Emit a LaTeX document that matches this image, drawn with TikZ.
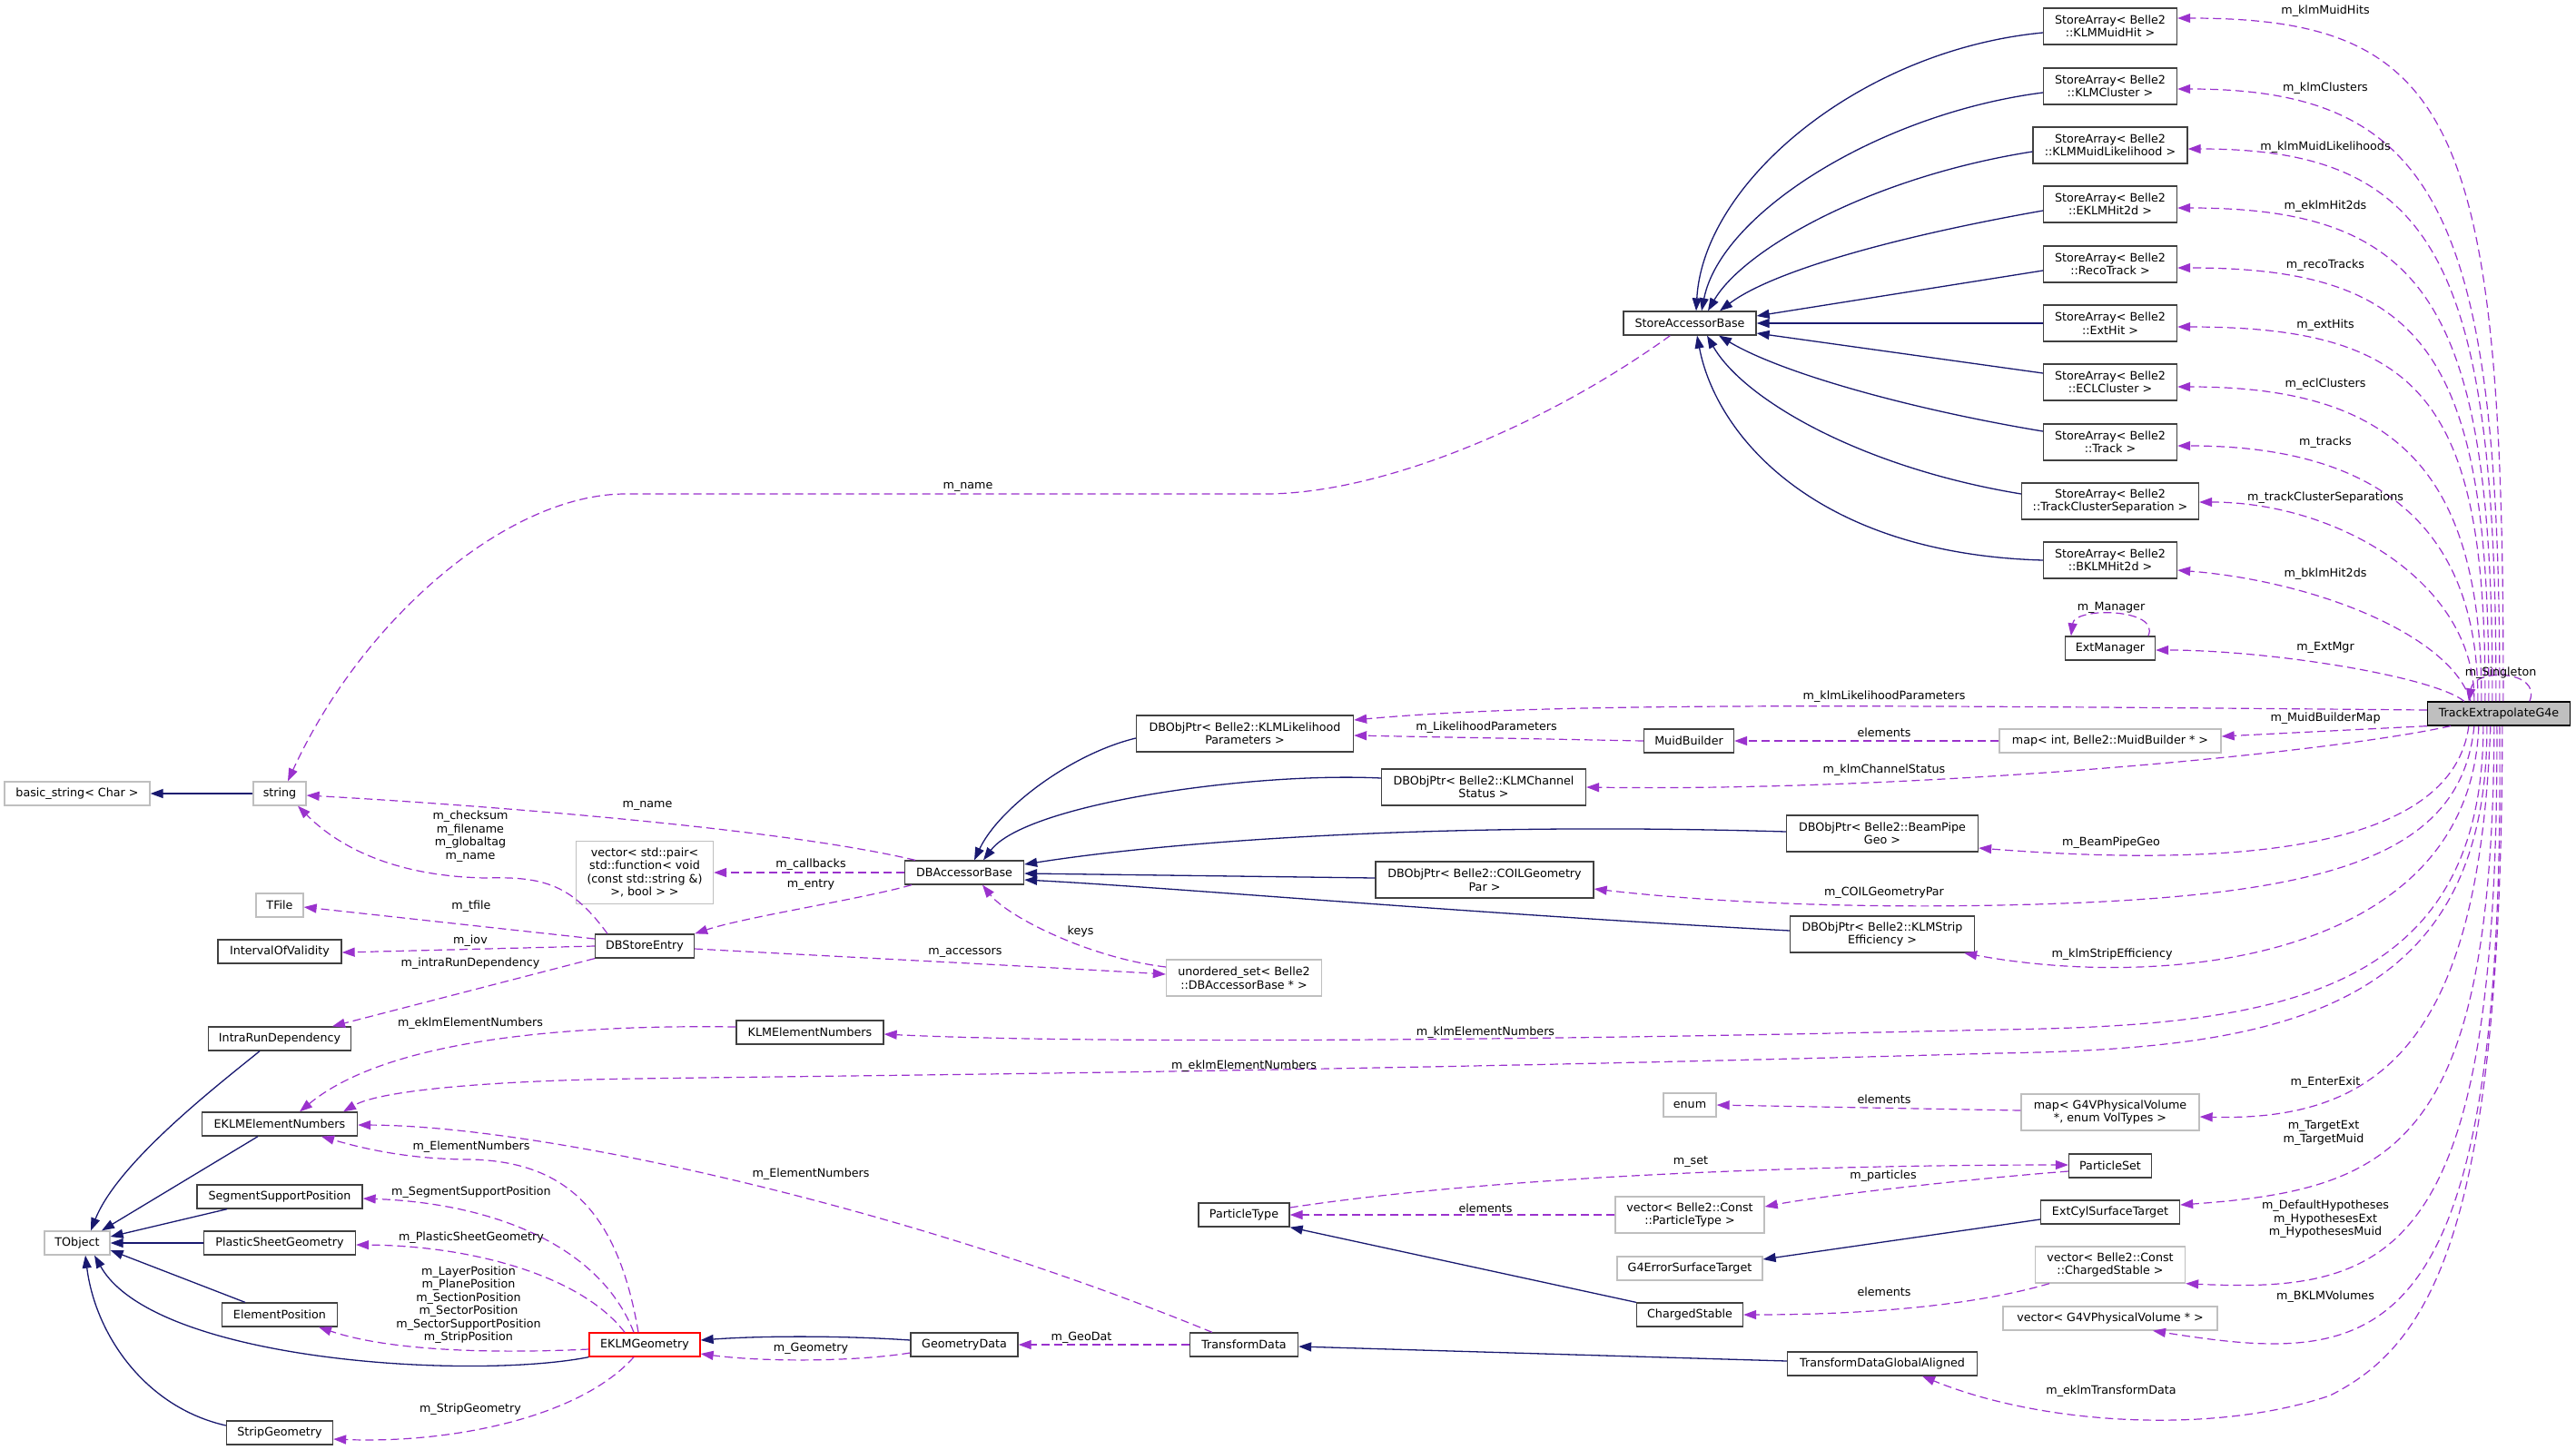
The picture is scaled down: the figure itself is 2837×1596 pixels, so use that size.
\documentclass[tikz,border=0pt]{standalone}
\usepackage{fontspec}
\setmainfont{DejaVu Sans}
\usetikzlibrary{arrows.meta,calc}
\definecolor{inhc}{HTML}{191970}
\definecolor{usec}{HTML}{9A32CD}
\definecolor{boxc}{HTML}{404040}
\definecolor{grayc}{HTML}{BFBFBF}
\definecolor{tefill}{HTML}{BFBFBF}
\newcommand\dfont{\fontsize{12.7pt}{14.5pt}\selectfont}
\begin{document}
\begin{tikzpicture}[x=1pt,y=-1pt,
  cls/.style={draw=boxc, line width=1.3pt, fill=white, inner sep=0pt, align=center, font=\dfont, minimum height=26pt},
  cls2/.style={cls, minimum height=40pt},
  ext/.style={cls, draw=grayc},
  ext2/.style={cls2, draw=grayc},
  tenode/.style={cls, fill=tefill, draw=black},
  rednode/.style={cls, draw=red},
  lbl/.style={font=\dfont, inner sep=0pt, align=center},
  inh/.style={draw=inhc, line width=1.3pt, -{Triangle[length=14pt,width=10pt]}},
  use/.style={draw=usec, line width=1.2pt, dash pattern=on 9pt off 5pt, -{Triangle[length=14pt,width=10pt]}}]
\useasboundingbox[fill=white] (0,0) rectangle (2837,1596);

% nodes
\node[cls2, minimum width=147pt] (saMuidHit) at (2324,29) {StoreArray< Belle2\\::KLMMuidHit >};
\node[cls2, minimum width=147pt] (saKLMCluster) at (2324,95) {StoreArray< Belle2\\::KLMCluster >};
\node[cls2, minimum width=170pt] (saMuidLik) at (2324,160) {StoreArray< Belle2\\::KLMMuidLikelihood >};
\node[cls2, minimum width=147pt] (saEKLMHit) at (2324,225) {StoreArray< Belle2\\::EKLMHit2d >};
\node[cls2, minimum width=147pt] (saReco) at (2324,291) {StoreArray< Belle2\\::RecoTrack >};
\node[cls2, minimum width=147pt] (saExtHit) at (2324,356) {StoreArray< Belle2\\::ExtHit >};
\node[cls2, minimum width=147pt] (saECL) at (2324,421) {StoreArray< Belle2\\::ECLCluster >};
\node[cls2, minimum width=147pt] (saTrack) at (2324,487) {StoreArray< Belle2\\::Track >};
\node[cls2, minimum width=195pt] (saTCS) at (2324,552) {StoreArray< Belle2\\::TrackClusterSeparation >};
\node[cls2, minimum width=147pt] (saBKLM) at (2324,617) {StoreArray< Belle2\\::BKLMHit2d >};
\node[cls, minimum width=99pt] (extMgr) at (2324,714) {ExtManager};
\node[tenode, minimum width=157pt] (te) at (2752,786) {TrackExtrapolateG4e};
\node[cls, minimum width=146pt] (sab) at (1861,356) {StoreAccessorBase};
\node[ext, minimum width=244pt] (mapMuid) at (2324,816) {map< int, Belle2::MuidBuilder * >};
\node[cls, minimum width=99pt] (muidB) at (1860,816) {MuidBuilder};
\node[cls2, minimum width=239pt] (dbLik) at (1371,808) {DBObjPtr< Belle2::KLMLikelihood\\Parameters >};
\node[cls2, minimum width=225pt] (dbChan) at (1634,867) {DBObjPtr< Belle2::KLMChannel\\Status >};
\node[cls2, minimum width=211pt] (dbBeam) at (2073,918) {DBObjPtr< Belle2::BeamPipe\\Geo >};
\node[cls2, minimum width=240pt] (dbCoil) at (1635,969) {DBObjPtr< Belle2::COILGeometry\\Par >};
\node[cls2, minimum width=203pt] (dbStrip) at (2073,1029) {DBObjPtr< Belle2::KLMStrip\\Efficiency >};
\node[ext2, minimum width=171pt] (uset) at (1370,1077) {unordered\_set< Belle2\\::DBAccessorBase * >};
\node[cls, minimum width=131pt] (dbab) at (1062,961) {DBAccessorBase};
\node[cls, minimum width=109pt] (dbse) at (710,1042) {DBStoreEntry};
\node[ext, minimum width=151pt, minimum height=69pt] (vecpair) at (710,961) {vector< std::pair<\\std::function< void\\(const std::string \&)\\>, bool > >};
\node[ext, minimum width=160pt] (bstr) at (85,874) {basic\_string< Char >};
\node[ext, minimum width=58pt] (str) at (308,874) {string};
\node[ext, minimum width=52pt] (tfile) at (308,997) {TFile};
\node[cls, minimum width=136pt] (iov) at (308,1048) {IntervalOfValidity};
\node[cls, minimum width=157pt] (ird) at (308,1144) {IntraRunDependency};
\node[cls, minimum width=162pt] (klmEN) at (892,1137) {KLMElementNumbers};
\node[cls, minimum width=171pt] (eklmEN) at (308,1238) {EKLMElementNumbers};
\node[cls, minimum width=182pt] (ssp) at (308,1318) {SegmentSupportPosition};
\node[ext, minimum width=72pt] (tobj) at (85,1369) {TObject};
\node[cls, minimum width=167pt] (psg) at (308,1369) {PlasticSheetGeometry};
\node[cls, minimum width=127pt] (epos) at (308,1448) {ElementPosition};
\node[rednode, minimum width=122pt] (eklmG) at (710,1481) {EKLMGeometry};
\node[cls, minimum width=117pt] (stripG) at (308,1578) {StripGeometry};
\node[cls, minimum width=118pt] (geoD) at (1062,1481) {GeometryData};
\node[cls, minimum width=119pt] (trD) at (1370,1481) {TransformData};
\node[cls, minimum width=100pt] (ptype) at (1370,1338) {ParticleType};
\node[ext, minimum width=58pt] (enumN) at (1861,1217) {enum};
\node[ext2, minimum width=164pt] (vecPT) at (1861,1338) {vector< Belle2::Const\\::ParticleType >};
\node[ext, minimum width=160pt] (g4est) at (1861,1397) {G4ErrorSurfaceTarget};
\node[cls, minimum width=117pt] (chS) at (1861,1448) {ChargedStable};
\node[cls, minimum width=209pt] (tdga) at (2073,1502) {TransformDataGlobalAligned};
\node[ext2, minimum width=196pt] (mapG4) at (2324,1225) {map< G4VPhysicalVolume\\{*}, enum VolTypes >};
\node[cls, minimum width=91pt] (pset) at (2324,1284) {ParticleSet};
\node[cls, minimum width=153pt] (ecst) at (2324,1335) {ExtCylSurfaceTarget};
\node[ext2, minimum width=165pt] (vecCS) at (2324,1393) {vector< Belle2::Const\\::ChargedStable >};
\node[ext, minimum width=236pt] (vecG4) at (2324,1452) {vector< G4VPhysicalVolume * >};

% inheritance
\draw[inh] ([yshift=-7pt]saMuidHit.west) .. controls (2050,55) and (1876,200) .. ([xshift=7pt]sab.north);
\draw[inh] ([yshift=-7pt]saKLMCluster.west) .. controls (2070,125) and (1895,235) .. ([xshift=13pt]sab.north);
\draw[inh] ([yshift=-7pt]saMuidLik.west) .. controls (2060,195) and (1920,275) .. ([xshift=20pt]sab.north);
\draw[inh] ([yshift=-7pt]saEKLMHit.west) .. controls (2080,262) and (1950,300) .. ([xshift=33pt]sab.north);
\draw[inh] ([yshift=-7pt]saReco.west) -- ([yshift=8pt]sab.east);
\draw[inh] (saExtHit.west) -- (sab.east);
\draw[inh] ([yshift=10pt]saECL.west) -- ([yshift=-11pt]sab.east);
\draw[inh] ([yshift=12pt]saTrack.west) .. controls (2100,450) and (1960,410) .. ([xshift=32pt]sab.south);
\draw[inh] ([yshift=8pt]saTCS.west) .. controls (2050,515) and (1920,440) .. ([xshift=19pt]sab.south);
\draw[inh] (saBKLM.west) .. controls (2000,610) and (1890,480) .. ([xshift=8pt]sab.south);
\draw[inh] ([yshift=-5pt]dbLik.west) .. controls (1180,830) and (1100,890) .. ([xshift=11pt]dbab.north);
\draw[inh] ([yshift=10pt]dbChan.west) .. controls (1380,850) and (1130,885) .. ([xshift=21pt]dbab.north);
\draw[inh] ([yshift=2pt]dbBeam.west) .. controls (1600,905) and (1300,925) .. ([yshift=9pt]dbab.east);
\draw[inh] ([yshift=2pt]dbCoil.west) -- ([yshift=-1pt]dbab.east);
\draw[inh] ([yshift=4pt]dbStrip.west) .. controls (1600,1005) and (1300,978) .. ([yshift=-8pt]dbab.east);
\draw[inh] (str.west) -- (bstr.east);
\draw[inh] ([xshift=-22pt]ird.south) .. controls (240,1195) and (130,1280) .. ([xshift=15pt]tobj.north);
\draw[inh] ([xshift=-24pt]eklmEN.south) -- ([xshift=27pt]tobj.north);
\draw[inh] ([xshift=-58pt]ssp.south) -- ([yshift=7pt]tobj.east);
\draw[inh] (psg.west) -- (tobj.east);
\draw[inh] ([xshift=-38pt]epos.north) -- ([yshift=-8pt]tobj.east);
\draw[inh] (eklmG.south west) .. controls (520,1520) and (170,1500) .. ([xshift=19pt]tobj.south);
\draw[inh] ([yshift=8pt]stripG.west) .. controls (160,1550) and (105,1470) .. ([xshift=9pt]tobj.south);
\draw[inh] ([yshift=5pt]geoD.west) .. controls (930,1471) and (840,1471) .. ([yshift=5pt]eklmG.east);
\draw[inh] (chS.north west) -- (ptype.south east);
\draw[inh] ([yshift=3pt]tdga.west) -- ([yshift=-2pt]trD.east);
\draw[inh] ([yshift=-8pt]ecst.west) -- ([yshift=10pt]g4est.east);

% usage from TrackExtrapolateG4e (upper)
\draw[use] ([xshift=84pt]te.north west) .. controls (2758,133) and (2704,20) .. ([yshift=9pt]saMuidHit.east);
\draw[use] ([xshift=80pt]te.north west) .. controls (2754,233) and (2683,98) .. ([yshift=-3pt]saKLMCluster.east);
\draw[use] ([xshift=76pt]te.north west) .. controls (2750,286) and (2682,164) .. ([yshift=-4pt]saMuidLik.east);
\draw[use] ([xshift=72pt]te.north west) .. controls (2746,338) and (2676,229) .. ([yshift=-4pt]saEKLMHit.east);
\draw[use] ([xshift=68pt]te.north west) .. controls (2742,391) and (2673,295) .. ([yshift=-4pt]saReco.east);
\draw[use] ([xshift=64pt]te.north west) .. controls (2738,443) and (2670,360) .. ([yshift=-4pt]saExtHit.east);
\draw[use] ([xshift=60pt]te.north west) .. controls (2734,513) and (2633,426) .. ([yshift=-5pt]saECL.east);
\draw[use] ([xshift=56pt]te.north west) .. controls (2730,576) and (2613,491) .. ([yshift=-4pt]saTrack.east);
\draw[use] ([xshift=52pt]te.north west) .. controls (2726,641) and (2573,553) .. ([yshift=-1pt]saTCS.east);
\draw[use] ([xshift=48pt]te.north west) .. controls (2700,700) and (2550,640) .. ([yshift=-11pt]saBKLM.east);
\draw[use] ([xshift=41pt]te.north west) .. controls (2680,745) and (2500,716) .. ([yshift=-2pt]extMgr.east);
\draw[use] ([xshift=113pt]te.north west) .. controls (2800,738) and (2725,735) .. ([xshift=46pt]te.north west);
\draw[use] ([xshift=92pt]extMgr.north west) .. controls (2380,670) and (2285,668) .. ([xshift=7pt]extMgr.north west);

% usage from TrackExtrapolateG4e (left / lower)
\draw[use] ([yshift=4pt]te.west) .. controls (2000,776) and (1700,774) .. ([yshift=15pt]dbLik.east);
\draw[use] (te.south west) -- ([yshift=5pt]mapMuid.east);
\draw[use] (mapMuid.west) -- (muidB.east);
\draw[use] (muidB.west) -- ([yshift=-2pt]dbLik.east);
\draw[use] ([xshift=26pt]te.south west) .. controls (2550,832) and (2100,872) .. (dbChan.east);
\draw[use] ([xshift=46pt]te.south west) .. controls (2700,940) and (2450,955) .. ([yshift=-16pt]dbBeam.east);
\draw[use] ([xshift=52pt]te.south west) .. controls (2710,950) and (2550,990) .. (2200,997) .. controls (2000,1001) and (1850,990) .. ([yshift=-10pt]dbCoil.east);
\draw[use] ([xshift=57pt]te.south west) .. controls (2720,1060) and (2380,1090) .. ([xshift=-12pt]dbStrip.south east);
\draw[use] ([xshift=62pt]te.south west) .. controls (2735,1100) and (2500,1130) .. (2200,1134) .. controls (1700,1146) and (1200,1150) .. ([yshift=-2pt]klmEN.east);
\draw[use] ([xshift=66pt]te.south west) .. controls (2740,1120) and (2500,1155) .. (2200,1160) .. controls (1500,1180) and (900,1185) .. (700,1188) .. controls (550,1190) and (420,1200) .. ([xshift=70pt]eklmEN.north);
\draw[use] ([xshift=70pt]te.south west) .. controls (2730,1150) and (2620,1235) .. ([yshift=-5pt]mapG4.east);
\draw[use] ([xshift=74pt]te.south west) .. controls (2745,1260) and (2640,1310) .. ([yshift=8pt]ecst.east);
\draw[use] ([xshift=77pt]te.south west) .. controls (2752,1380) and (2640,1425) .. (vecCS.south east);
\draw[use] ([xshift=80pt]te.south west) .. controls (2760,1500) and (2620,1505) .. ([xshift=47pt]vecG4.south);
\draw[use] ([xshift=83pt]te.south west) .. controls (2755,1350) and (2680,1480) .. (2566,1537) .. controls (2440,1580) and (2250,1570) .. ([xshift=44pt]tdga.south);

% other usage
\draw[use] ([xshift=52pt]sab.south west) .. controls (1700,470) and (1520,544) .. (1393,544) -- (689,544) .. controls (560,544) and (400,680) .. ([xshift=9pt]str.north);
\draw[use] ([xshift=-41pt]dbse.north) .. controls (630,975) and (600,965) .. (535,967) .. controls (430,965) and (370,930) .. ([xshift=20pt]str.south);
\draw[use] ([yshift=8pt]dbse.west) -- ([yshift=-2pt]tfile.east);
\draw[use] (dbse.west) -- ([yshift=-1pt]iov.east);
\draw[use] (dbse.south west) -- ([xshift=58pt]ird.north);
\draw[use] ([yshift=-3pt]dbse.east) .. controls (950,1055) and (1150,1065) .. ([yshift=4pt]uset.west);
\draw[use] ([xshift=-58pt]dbab.south) .. controls (950,990) and (820,1010) .. (dbse.north east);
\draw[use] (dbab.west) -- (vecpair.east);
\draw[use] ([xshift=-54pt]dbab.north) .. controls (850,910) and (500,885) .. ([yshift=-2pt]str.east);
\draw[use] ([yshift=12pt]uset.west) .. controls (1200,1055) and (1110,1010) .. ([xshift=20pt]dbab.south);
\draw[use] ([yshift=6pt]klmEN.west) .. controls (600,1128) and (420,1150) .. ([xshift=22pt]eklmEN.north);
\draw[use] ([xshift=-35pt]trD.north) .. controls (1000,1330) and (600,1240) .. ([yshift=-1pt]eklmEN.east);
\draw[use] ([xshift=-7pt]eklmG.north) .. controls (680,1330) and (620,1280) .. (520,1277) .. controls (450,1277) and (400,1265) .. ([xshift=46pt]eklmEN.south);
\draw[use] ([xshift=-12pt]eklmG.north) .. controls (660,1370) and (540,1325) .. ([yshift=-2pt]ssp.east);
\draw[use] ([xshift=-22pt]eklmG.north) .. controls (640,1405) and (520,1372) .. ([yshift=-2pt]psg.east);
\draw[use] ([yshift=-5pt]eklmG.west) .. controls (520,1492) and (420,1485) .. ([xshift=43pt]epos.south);
\draw[use] ([xshift=-12pt]eklmG.south) .. controls (640,1560) and (500,1590) .. ([yshift=-7pt]stripG.east);
\draw[use] ([yshift=-9pt]geoD.west) .. controls (940,1500) and (840,1500) .. ([yshift=-10pt]eklmG.east);
\draw[use] (trD.west) -- (geoD.east);
\draw[use] ([yshift=8pt]ptype.east) .. controls (1650,1295) and (2000,1283) .. ([yshift=1pt]pset.west);
\draw[use] ([yshift=-6pt]pset.west) .. controls (2150,1300) and (2000,1318) .. ([yshift=9pt]vecPT.east);
\draw[use] (vecPT.west) -- (ptype.east);
\draw[use] ([xshift=-67pt]vecCS.south) .. controls (2150,1445) and (2000,1448) .. (chS.east);
\draw[use] ([yshift=2pt]mapG4.west) -- (enumN.east);

% labels
\node[lbl] (lb1) at (2561,12) {m\_klmMuidHits};
\node[lbl] (lb2) at (2561,97) {m\_klmClusters};
\node[lbl] (lb3) at (2561,162) {m\_klmMuidLikelihoods};
\node[lbl] (lb4) at (2561,227) {m\_eklmHit2ds};
\node[lbl] (lb5) at (2561,292) {m\_recoTracks};
\node[lbl] (lb6) at (2561,358) {m\_extHits};
\node[lbl] (lb7) at (2561,423) {m\_eclClusters};
\node[lbl] (lb8) at (2561,487) {m\_tracks};
\node[lbl] (lb9) at (2561,548) {m\_trackClusterSeparations};
\node[lbl] (lb10) at (2561,632) {m\_bklmHit2ds};
\node[lbl] (lb11) at (2325,669) {m\_Manager};
\node[lbl] (lb12) at (2561,713) {m\_ExtMgr};
\node[lbl] (lb13) at (2754,741) {m\_Singleton};
\node[lbl] (lb14) at (2561,791) {m\_MuidBuilderMap};
\node[lbl] (lb15) at (2075,767) {m\_klmLikelihoodParameters};
\node[lbl] (lb16) at (1637,801) {m\_LikelihoodParameters};
\node[lbl] (lb17) at (2075,807) {elements};
\node[lbl] (lb18) at (2075,848) {m\_klmChannelStatus};
\node[lbl] (lb19) at (2325,928) {m\_BeamPipeGeo};
\node[lbl] (lb20) at (2075,983) {m\_COILGeometryPar};
\node[lbl] (lb21) at (2326,1051) {m\_klmStripEfficiency};
\node[lbl] (lb22) at (1636,1137) {m\_klmElementNumbers};
\node[lbl] (lb23) at (1370,1174) {m\_eklmElementNumbers};
\node[lbl] (lb24) at (2561,1192) {m\_EnterExit};
\node[lbl] (lb25) at (2075,1211) {elements};
\node[lbl] (lb26) at (2559,1248) {m\_TargetExt\\m\_TargetMuid};
\node[lbl] (lb27) at (1862,1280) {m\_set};
\node[lbl] (lb28) at (2074,1295) {m\_particles};
\node[lbl] (lb29) at (1636,1331) {elements};
\node[lbl] (lb30) at (2561,1343) {m\_DefaultHypotheses\\m\_HypothesesExt\\m\_HypothesesMuid};
\node[lbl] (lb31) at (2075,1423) {elements};
\node[lbl] (lb32) at (2561,1428) {m\_BKLMVolumes};
\node[lbl] (lb33) at (2325,1532) {m\_eklmTransformData};
\node[lbl] (lb34) at (1066,536) {m\_name};
\node[lbl] (lb35) at (713,887) {m\_name};
\node[lbl] (lb36) at (893,952) {m\_callbacks};
\node[lbl] (lb37) at (893,975) {m\_entry};
\node[lbl] (lb38) at (1190,1026) {keys};
\node[lbl] (lb39) at (1063,1049) {m\_accessors};
\node[lbl] (lb40) at (518,921) {m\_checksum\\m\_filename\\m\_globaltag\\m\_name};
\node[lbl] (lb41) at (519,998) {m\_tfile};
\node[lbl] (lb42) at (518,1036) {m\_iov};
\node[lbl] (lb43) at (518,1061) {m\_intraRunDependency};
\node[lbl] (lb44) at (518,1127) {m\_eklmElementNumbers};
\node[lbl] (lb45) at (519,1263) {m\_ElementNumbers};
\node[lbl] (lb46) at (519,1313) {m\_SegmentSupportPosition};
\node[lbl] (lb47) at (519,1363) {m\_PlasticSheetGeometry};
\node[lbl] (lb48) at (516,1437) {m\_LayerPosition\\m\_PlanePosition\\m\_SectionPosition\\m\_SectorPosition\\m\_SectorSupportPosition\\m\_StripPosition};
\node[lbl] (lb49) at (518,1552) {m\_StripGeometry};
\node[lbl] (lb50) at (893,1293) {m\_ElementNumbers};
\node[lbl] (lb51) at (893,1485) {m\_Geometry};
\node[lbl] (lb52) at (1191,1473) {m\_GeoDat};
\end{tikzpicture}
\end{document}
